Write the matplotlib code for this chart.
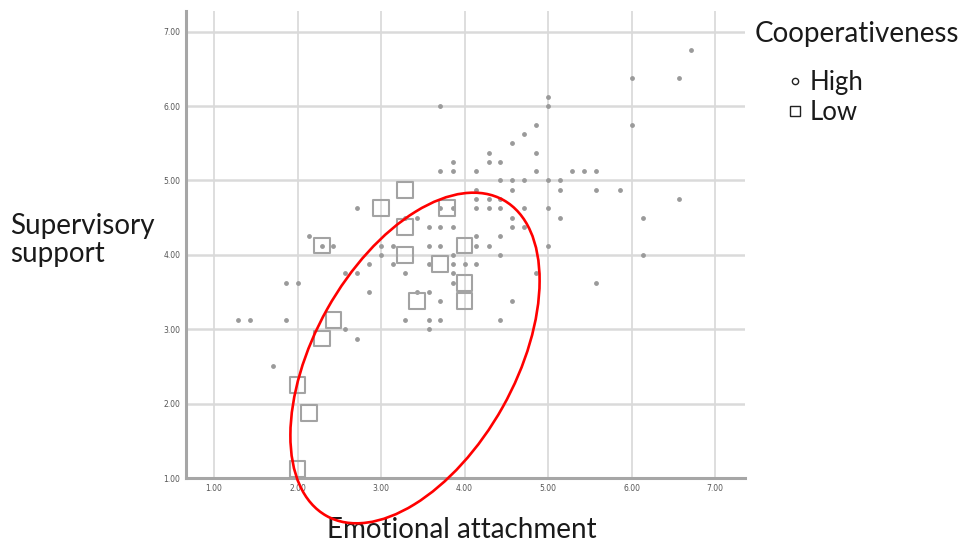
import matplotlib.pyplot as plt
from matplotlib.patches import Ellipse
from matplotlib.lines import Line2D

# Cooperativeness = High (small dots)
high_x = [1.29, 1.43, 1.71, 1.86, 1.86, 2.00, 2.14, 2.43, 2.29,
          2.57, 2.57, 2.71, 2.71, 2.71, 2.86, 2.86,
          3.00, 3.00, 3.14, 3.14, 3.29, 3.29, 3.29, 3.43, 3.43,
          3.57, 3.57, 3.57, 3.57, 3.57, 3.57,
          3.71, 3.71, 3.71, 3.71, 3.71, 3.71, 3.71,
          3.86, 3.86, 3.86, 3.86, 3.86, 3.86, 3.86, 3.86,
          4.00, 4.14, 4.14, 4.14, 4.14, 4.14, 4.14, 4.14,
          4.29, 4.29, 4.29, 4.29, 4.29,
          4.43, 4.43, 4.43, 4.43, 4.43, 4.43, 4.43,
          4.57, 4.57, 4.57, 4.57, 4.57, 4.57,
          4.71, 4.71, 4.71, 4.71,
          4.86, 4.86, 4.86, 4.86,
          5.00, 5.00, 5.00, 5.00, 5.00,
          5.14, 5.14, 5.14, 5.29, 5.43, 5.57, 5.57, 5.57, 5.86,
          6.00, 6.00, 6.14, 6.14, 6.57, 6.57, 6.71]
high_y = [3.125, 3.125, 2.5, 3.625, 3.125, 3.625, 4.25, 4.125, 4.125,
          3.0, 3.75, 2.875, 3.75, 4.625, 3.875, 3.5,
          4.125, 4.0, 4.125, 3.875, 3.75, 3.125, 4.5, 3.5, 4.5,
          4.125, 3.875, 3.5, 3.125, 3.0, 4.375,
          6.0, 5.125, 4.375, 4.125, 3.375, 3.125, 4.625,
          5.25, 5.125, 4.0, 3.875, 3.75, 3.625, 4.375, 4.625,
          3.875, 5.125, 4.875, 4.75, 4.625, 4.25, 4.125, 3.875,
          5.375, 5.25, 4.75, 4.625, 4.125,
          5.25, 5.0, 4.75, 4.625, 4.25, 4.0, 3.125,
          5.5, 5.0, 4.875, 4.5, 4.375, 3.375,
          5.625, 5.0, 4.625, 4.375,
          5.75, 5.375, 5.125, 3.75,
          6.125, 6.0, 5.0, 4.625, 4.125,
          5.0, 4.875, 4.5, 5.125, 5.125, 5.125, 4.875, 3.625, 4.875,
          6.375, 5.75, 4.5, 4.0, 6.375, 4.75, 6.75]

# Cooperativeness = Low (squares)
low_x = [2.29, 3.00, 3.29, 3.29, 3.29, 3.79, 4.00, 3.71, 4.00, 4.00,
         3.43, 2.43, 2.29, 2.00, 2.14, 2.00]
low_y = [4.125, 4.625, 4.875, 4.375, 4.0, 4.625, 4.125, 3.875, 3.625, 3.375,
         3.375, 3.125, 2.875, 2.25, 1.875, 1.125]

ticks = [1, 2, 3, 4, 5, 6, 7]
tick_labels = ['1.00', '2.00', '3.00', '4.00', '5.00', '6.00', '7.00']

fig = plt.figure(figsize=(9.64, 5.42), dpi=100)
ax = fig.add_axes([0.193, 0.118, 0.580, 0.862])

ax.scatter(high_x, high_y, s=6, marker='o', color='#9a9a9a', zorder=3)
ax.scatter(low_x, low_y, s=130, marker='s', facecolor='none',
           edgecolor='#a3a3a3', linewidth=1.5, zorder=4)

ax.set_xlim(0.665, 7.36)
ax.set_ylim(1.0, 7.28)
ax.set_xticks(ticks, tick_labels)
ax.set_yticks(ticks, tick_labels)
ax.tick_params(length=0, labelsize=5.5, labelcolor='#555555', pad=4)

ax.grid(axis='y', color='#dadada', linewidth=1.8)
ax.grid(axis='x', color='#d4d4d4', linewidth=1.1)
ax.set_axisbelow(True)
for side in ['top', 'right']:
    ax.spines[side].set_visible(False)
for side in ['left', 'bottom']:
    ax.spines[side].set_color('#a6a6a6')
    ax.spines[side].set_linewidth(2.2)

# red highlight ellipse (drawn in inches so it keeps its shape)
ell = Ellipse((4.15, 1.84), 3.62, 2.01, angle=60.7, fill=False,
              edgecolor='red', linewidth=1.9, transform=fig.dpi_scale_trans,
              clip_on=False, zorder=6)
fig.add_artist(ell)

txt = '#1a1a1a'
fig.text(0.010, 0.557, 'Supervisory\nsupport', fontsize=20, family='Lato',
         color=txt, ha='left', va='center', linespacing=1.1)
fig.text(0.479, 0.022, 'Emotional attachment', fontsize=20, family='Lato',
         color=txt, ha='center', va='center')
fig.text(0.783, 0.938, 'Cooperativeness', fontsize=20, family='Lato',
         color=txt, ha='left', va='center')

handles = [Line2D([], [], linestyle='none', marker='o', markersize=4.5,
                  markerfacecolor='white', markeredgecolor='#222222'),
           Line2D([], [], linestyle='none', marker='s', markersize=7.5,
                  markerfacecolor='white', markeredgecolor='#222222')]
leg = fig.legend(handles, ['High', 'Low'], loc='upper left',
                 bbox_to_anchor=(0.803, 0.895), frameon=False,
                 prop={'family': 'Lato', 'size': 18.5}, handlelength=0.6,
                 handletextpad=0.3, labelspacing=0.22, borderpad=0)
for t in leg.get_texts():
    t.set_color(txt)

fig.savefig('out.png', dpi=100)
